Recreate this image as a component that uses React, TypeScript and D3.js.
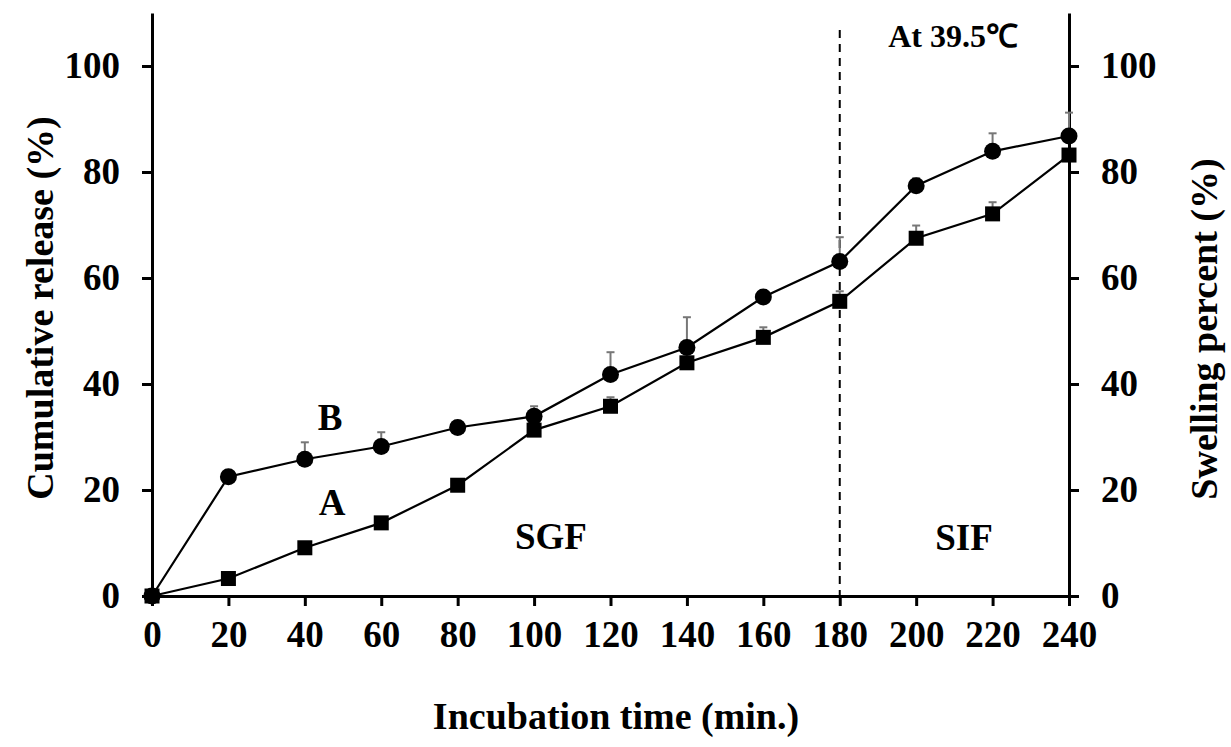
import React, { useEffect, useRef } from 'react';
import * as d3 from 'd3';

// incubation times (min)
const times = [0, 20, 40, 60, 80, 100, 120, 140, 160, 180, 200, 220, 240];
// A: squares
const seriesA = [0, 3.3, 9.1, 13.8, 20.9, 31.3, 35.8, 44.0, 48.8, 55.6, 67.5, 72.1, 83.2];
const errA = [0, 0, 0, 0, 0, 0.8, 1.7, 0, 1.9, 1.9, 2.4, 2.2, 0];
// B: circles
const seriesB = [0, 22.5, 25.8, 28.2, 31.8, 33.9, 41.8, 46.9, 56.4, 63.1, 77.4, 83.9, 86.8];
const errB = [0, 0, 3.2, 2.7, 0, 1.9, 4.2, 5.7, 0, 4.6, 1.4, 3.4, 4.4];
const xTicks = [0, 20, 40, 60, 80, 100, 120, 140, 160, 180, 200, 220, 240];
const yTicks = [0, 20, 40, 60, 80, 100];

const FONT = '"Liberation Serif", "Times New Roman", serif';

const App = () => {
  const ref = useRef<SVGSVGElement>(null);

  useEffect(() => {
    const svg = d3.select(ref.current);
    svg.selectAll('*').remove();

    const left = 152, right = 1069, top = 13, bottom = 596;

    const x = d3.scaleLinear().domain([0, 240]).range([left, right]);
    const y = d3.scaleLinear().domain([0, 110]).range([bottom, top]);

    const styleAxis = (g: any) => {
      g.select('.domain').attr('stroke', '#000').attr('stroke-width', 3);
      g.selectAll('.tick line').attr('stroke', '#000').attr('stroke-width', 3);
      g.selectAll('.tick text')
        .attr('fill', '#000')
        .style('font-family', FONT)
        .style('font-weight', 'bold')
        .style('font-size', '37px');
    };

    svg.append('g')
      .attr('transform', `translate(0,${bottom})`)
      .call(d3.axisBottom(x).tickValues(xTicks).tickSize(10).tickSizeOuter(0).tickPadding(15))
      .call(styleAxis);

    svg.append('g')
      .attr('transform', `translate(${left},0)`)
      .call(d3.axisLeft(y).tickValues(yTicks).tickSize(10).tickSizeOuter(0).tickPadding(22))
      .call(styleAxis);

    svg.append('g')
      .attr('transform', `translate(${right},0)`)
      .call(d3.axisRight(y).tickValues(yTicks).tickSize(10).tickSizeOuter(0).tickPadding(22))
      .call(styleAxis);

    // phase boundary
    svg.append('line')
      .attr('x1', x(180)).attr('x2', x(180))
      .attr('y1', 30).attr('y2', bottom)
      .attr('stroke', '#000').attr('stroke-width', 2)
      .attr('stroke-dasharray', '8,6');

    const line = d3.line<number>()
      .x((_, i) => x(times[i]))
      .y(d => y(d));

    const drawErr = (vals: number[], errs: number[]) => {
      const g = svg.append('g').attr('stroke', '#777').attr('stroke-width', 2);
      vals.forEach((v, i) => {
        if (!errs[i]) return;
        const cx = x(times[i]);
        g.append('line').attr('x1', cx).attr('x2', cx).attr('y1', y(v)).attr('y2', y(v + errs[i]));
        g.append('line').attr('x1', cx - 4).attr('x2', cx + 4).attr('y1', y(v + errs[i])).attr('y2', y(v + errs[i]));
      });
    };

    drawErr(seriesB, errB);
    drawErr(seriesA, errA);

    svg.append('path').datum(seriesB)
      .attr('fill', 'none').attr('stroke', '#000').attr('stroke-width', 2.2)
      .attr('d', line);
    svg.append('path').datum(seriesA)
      .attr('fill', 'none').attr('stroke', '#000').attr('stroke-width', 2.2)
      .attr('d', line);

    svg.append('g').selectAll('circle').data(seriesB).join('circle')
      .attr('cx', (_, i) => x(times[i])).attr('cy', d => y(d))
      .attr('r', 8.5).attr('fill', '#000');

    svg.append('g').selectAll('rect').data(seriesA).join('rect')
      .attr('x', (_, i) => x(times[i]) - 7.5).attr('y', d => y(d) - 7.5)
      .attr('width', 15).attr('height', 15).attr('fill', '#000');

    const label = (txt: string, tx: number, ty: number, size = 37, rot = 0) => {
      svg.append('text')
        .attr('transform', `translate(${tx},${ty}) rotate(${rot})`)
        .attr('text-anchor', 'middle')
        .style('font-family', FONT)
        .style('font-weight', 'bold')
        .style('font-size', `${size}px`)
        .attr('fill', '#000')
        .text(txt);
    };

    label('B', 330, 430);
    label('A', 332, 515);
    label('SGF', 551, 549);
    label('SIF', 964, 550);
    label('At 39.5\u2103', 953, 47, 32);
    label('Incubation time (min.)', 616, 729, 38);
    label('Cumulative release (%)', 53, 308, 38, -90);
    label('Swelling percent (%)', 1217, 329, 38, -90);
  }, []);

  return (
    <svg ref={ref} width={1231} height={747}
      style={{ position: 'absolute', left: 0, top: 0, background: '#fff' }} />
  );
};

export default App;
